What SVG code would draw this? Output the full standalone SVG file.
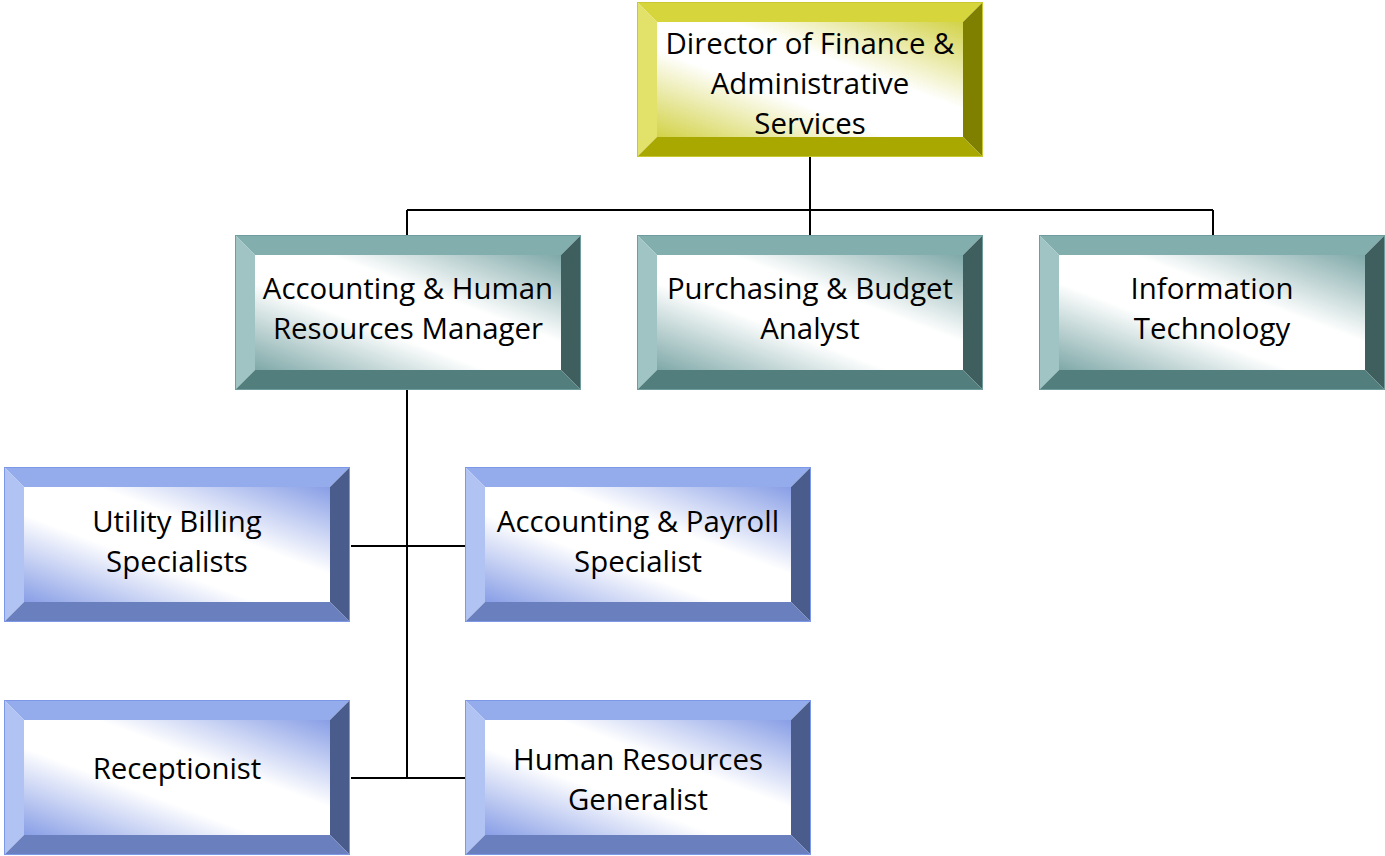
<svg xmlns="http://www.w3.org/2000/svg" width="1385" height="856" viewBox="0 0 1385 856">
<style>
  text { font-family: "Open Sans", "Liberation Sans", sans-serif; font-size: 29.4px; fill: #000; text-anchor: middle; }
  .conn { stroke: #000; stroke-width: 2; fill: none; }
  .y .t { fill: #D6D63C; } .y .l { fill: #E2E26A; } .y .r { fill: #808000; } .y .b { fill: #A9A800; } .y .f { fill: url(#gy); } .y .o { stroke: #C8C830; }
  .g .t { fill: #82AEAE; } .g .l { fill: #A0C4C4; } .g .r { fill: #3F5F5F; } .g .b { fill: #527E7E; } .g .f { fill: url(#gg); } .g .o { stroke: #6F9C9C; }
  .u .t { fill: #94ACEB; } .u .l { fill: #B1C3F3; } .u .r { fill: #4A5C8C; } .u .b { fill: #6A7FBE; } .u .f { fill: url(#gu); } .u .o { stroke: #7C98E6; }
  .o { fill: none; stroke-width: 1; }
</style>
<defs>
  <linearGradient id="gy" x1="0" y1="1" x2="1" y2="0">
    <stop offset="0" stop-color="#D2D248"/><stop offset="0.38" stop-color="#FFFFFF"/><stop offset="0.62" stop-color="#FFFFFF"/><stop offset="1" stop-color="#D2D248"/>
  </linearGradient>
  <linearGradient id="gg" x1="0" y1="1" x2="1" y2="0">
    <stop offset="0" stop-color="#7FA8A8"/><stop offset="0.38" stop-color="#FFFFFF"/><stop offset="0.62" stop-color="#FFFFFF"/><stop offset="1" stop-color="#7FA8A8"/>
  </linearGradient>
  <linearGradient id="gu" x1="0" y1="1" x2="1" y2="0">
    <stop offset="0" stop-color="#889EE6"/><stop offset="0.38" stop-color="#FFFFFF"/><stop offset="0.62" stop-color="#FFFFFF"/><stop offset="1" stop-color="#889EE6"/>
  </linearGradient>
</defs>

<g id="connectors">
  <path class="conn" d="M810,157 V210 M407,210 H1213 M407,210 V235 M810,210 V235 M1213,210 V235"/>
  <path class="conn" d="M407,390 V778 M351,546 H465 M351,778 H465"/>
</g>

<g id="director" class="y" transform="translate(637,2)">
  <rect class="f" x="20" y="20" width="306" height="115"/>
  <polygon class="t" points="0,0 346,0 326,20 20,20"/>
  <polygon class="l" points="0,0 20,20 20,135 0,155"/>
  <polygon class="r" points="346,0 346,155 326,135 326,20"/>
  <polygon class="b" points="0,155 346,155 326,135 20,135"/>
  <rect class="o" x="0.5" y="0.5" width="345" height="154"/>
  <text x="173" y="52">Director of Finance &amp;</text>
  <text x="173" y="92">Administrative</text>
  <text x="173" y="132">Services</text>
</g>
<g id="acct-hr-manager" class="g" transform="translate(235,235)">
  <rect class="f" x="20" y="20" width="306" height="115"/>
  <polygon class="t" points="0,0 346,0 326,20 20,20"/>
  <polygon class="l" points="0,0 20,20 20,135 0,155"/>
  <polygon class="r" points="346,0 346,155 326,135 326,20"/>
  <polygon class="b" points="0,155 346,155 326,135 20,135"/>
  <rect class="o" x="0.5" y="0.5" width="345" height="154"/>
  <text x="173" y="64">Accounting &amp; Human</text>
  <text x="173" y="104">Resources Manager</text>
</g>
<g id="purchasing" class="g" transform="translate(637,235)">
  <rect class="f" x="20" y="20" width="306" height="115"/>
  <polygon class="t" points="0,0 346,0 326,20 20,20"/>
  <polygon class="l" points="0,0 20,20 20,135 0,155"/>
  <polygon class="r" points="346,0 346,155 326,135 326,20"/>
  <polygon class="b" points="0,155 346,155 326,135 20,135"/>
  <rect class="o" x="0.5" y="0.5" width="345" height="154"/>
  <text x="173" y="64">Purchasing &amp; Budget</text>
  <text x="173" y="104">Analyst</text>
</g>
<g id="it" class="g" transform="translate(1039,235)">
  <rect class="f" x="20" y="20" width="306" height="115"/>
  <polygon class="t" points="0,0 346,0 326,20 20,20"/>
  <polygon class="l" points="0,0 20,20 20,135 0,155"/>
  <polygon class="r" points="346,0 346,155 326,135 326,20"/>
  <polygon class="b" points="0,155 346,155 326,135 20,135"/>
  <rect class="o" x="0.5" y="0.5" width="345" height="154"/>
  <text x="173" y="64">Information</text>
  <text x="173" y="104">Technology</text>
</g>
<g id="utility-billing" class="u" transform="translate(4,467)">
  <rect class="f" x="20" y="20" width="306" height="115"/>
  <polygon class="t" points="0,0 346,0 326,20 20,20"/>
  <polygon class="l" points="0,0 20,20 20,135 0,155"/>
  <polygon class="r" points="346,0 346,155 326,135 326,20"/>
  <polygon class="b" points="0,155 346,155 326,135 20,135"/>
  <rect class="o" x="0.5" y="0.5" width="345" height="154"/>
  <text x="173" y="65">Utility Billing</text>
  <text x="173" y="105">Specialists</text>
</g>
<g id="acct-payroll" class="u" transform="translate(465,467)">
  <rect class="f" x="20" y="20" width="306" height="115"/>
  <polygon class="t" points="0,0 346,0 326,20 20,20"/>
  <polygon class="l" points="0,0 20,20 20,135 0,155"/>
  <polygon class="r" points="346,0 346,155 326,135 326,20"/>
  <polygon class="b" points="0,155 346,155 326,135 20,135"/>
  <rect class="o" x="0.5" y="0.5" width="345" height="154"/>
  <text x="173" y="65">Accounting &amp; Payroll</text>
  <text x="173" y="105">Specialist</text>
</g>
<g id="receptionist" class="u" transform="translate(4,700)">
  <rect class="f" x="20" y="20" width="306" height="115"/>
  <polygon class="t" points="0,0 346,0 326,20 20,20"/>
  <polygon class="l" points="0,0 20,20 20,135 0,155"/>
  <polygon class="r" points="346,0 346,155 326,135 326,20"/>
  <polygon class="b" points="0,155 346,155 326,135 20,135"/>
  <rect class="o" x="0.5" y="0.5" width="345" height="154"/>
  <text x="173" y="79">Receptionist</text>
</g>
<g id="hr-generalist" class="u" transform="translate(465,700)">
  <rect class="f" x="20" y="20" width="306" height="115"/>
  <polygon class="t" points="0,0 346,0 326,20 20,20"/>
  <polygon class="l" points="0,0 20,20 20,135 0,155"/>
  <polygon class="r" points="346,0 346,155 326,135 326,20"/>
  <polygon class="b" points="0,155 346,155 326,135 20,135"/>
  <rect class="o" x="0.5" y="0.5" width="345" height="154"/>
  <text x="173" y="70">Human Resources</text>
  <text x="173" y="110">Generalist</text>
</g>
</svg>
